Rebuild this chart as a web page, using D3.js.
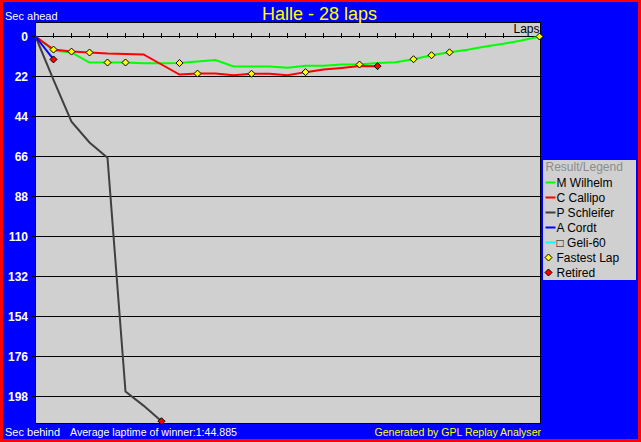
<!DOCTYPE html>
<html><head><meta charset="utf-8">
<script src="https://cdn.jsdelivr.net/npm/d3@7"></script>
<style>body{margin:0;overflow:hidden;background:#ff0000}svg{display:block}</style>
</head><body><svg id="c" width="641" height="442"></svg>
<script>
// ---- data ----
const titleText = "Halle - 28 laps";
const laps = [0,1,2,3,4,5,6,7,8,9,10,11,12,13,14,15,16,17,18,19,20,21,22,23,24,25,26,27,28];
const lapTicks = [1,2,3,4,5,6,7,8,9,10,11,12,13,14,15,16,17,18,19,20,21,22,23,24,25,26];
const yTicks = [0,22,44,66,88,110,132,154,176,198];
const drivers = ["M Wilhelm","C Callipo","P Schleifer","A Cordt","\u25A1 Geli-60"];
// seconds behind leader-pace, per lap (index = lap)
const wilhelm = [0,7.7,8.8,14.3,14.3,14.3,14.7,14.7,14.6,13.8,12.9,16.5,16.5,16.5,17.2,16.1,16.1,15.4,15.4,14.6,14.1,12.5,10.3,8.7,7.3,5.5,4.0,2.2,0];
const callipo = [0,7.2,8.3,8.8,9.4,9.6,9.9,15.4,20.9,20.4,20.4,21.3,20.5,20.5,21.3,19.6,18.2,17.3,16.2,16.3];
const schleifer = [0,23.8,46.8,58.3,66.7,195.3,203,211.6];
const cordt = [0,12.6];
const geli = [];
const retired = ["C Callipo","P Schleifer","A Cordt"];
const fastestLaps = [["C Callipo",1],["C Callipo",2],["C Callipo",3],["M Wilhelm",4],["M Wilhelm",5],["M Wilhelm",8],["C Callipo",9],["C Callipo",12],["C Callipo",15],["M Wilhelm",18],["M Wilhelm",21],["M Wilhelm",22],["M Wilhelm",23],["M Wilhelm",28]];
const legendTitle = "Result/Legend";
const legendExtras = ["Fastest Lap","Retired"];
const yLabelTop = "Sec ahead", yLabelBottom = "Sec behind";
const avgText = "Average laptime of winner:1:44.885";
const genText = "Generated by GPL Replay Analyser";

// ---- styles ----
const palette = {"M Wilhelm":"#00ff00","C Callipo":"#ff0000","P Schleifer":"#404040","A Cordt":"#0000ff","\u25A1 Geli-60":"#00ffff"};
const seriesMap = {"M Wilhelm":wilhelm,"C Callipo":callipo,"P Schleifer":schleifer,"A Cordt":cordt,"\u25A1 Geli-60":geli};
const font = "'Liberation Sans', Arial, sans-serif";

const svg = d3.select("#c");
svg.append("rect").attr("x",3).attr("y",2).attr("width",635).attr("height",437).attr("fill","#0000ff");

const x = d3.scaleLinear().domain([0,28]).range([35.5,539.5]);
const y = d3.scaleLinear().domain([0,198]).range([36.5,396.5]);
const plotL = 35.5, plotR = 540.5, plotT = 22.5, plotB = 423.5;

svg.append("rect").attr("x",plotL).attr("y",plotT).attr("width",plotR-plotL).attr("height",plotB-plotT)
  .attr("fill","#d0d0d0").attr("stroke","#000").attr("stroke-width",1);

// grid + left ticks
const g = svg.append("g");
yTicks.forEach(t=>{
  g.append("line").attr("x1",31).attr("x2",plotR).attr("y1",y(t)).attr("y2",y(t)).attr("stroke","#000").attr("stroke-width",1);
  g.append("text").attr("x",28).attr("y",y(t)).attr("dy","0.36em").attr("text-anchor","end")
   .attr("fill","#fff").attr("font-family",font).attr("font-weight","bold").attr("font-size",12).text(t);
});
lapTicks.forEach(l=>{
  g.append("line").attr("x1",x(l)).attr("x2",x(l)).attr("y1",33).attr("y2",38).attr("stroke","#000").attr("stroke-width",1);
});
svg.append("text").attr("x",539.5).attr("y",32.5).attr("text-anchor","end").attr("font-family",font)
  .attr("font-size",12).attr("fill","#000").text("Laps");

// series lines
const line = d3.line().x((d,i)=>x(laps[i])).y(d=>y(d));
drivers.forEach(dn=>{
  const v = seriesMap[dn];
  if (v.length<2) return;
  svg.append("path").attr("d",line(v)).attr("fill","none").attr("stroke",palette[dn]).attr("stroke-width",2);
});

const diamond = "M0,-3.5L3.5,0L0,3.5L-3.5,0Z";
fastestLaps.forEach(([dn,l])=>{
  svg.append("path").attr("d",diamond).attr("transform",`translate(${x(laps[l])},${y(seriesMap[dn][l])})`)
    .attr("fill","#ffff00").attr("stroke","#000").attr("stroke-width",1);
});
retired.forEach(dn=>{
  const v = seriesMap[dn]; const l = v.length-1;
  svg.append("path").attr("d",diamond).attr("transform",`translate(${x(laps[l])},${y(v[l])})`)
    .attr("fill","#ff0000").attr("stroke","#000").attr("stroke-width",1);
});

// texts
svg.append("text").attr("x",319.5).attr("y",19.5).attr("text-anchor","middle").attr("font-family",font)
  .attr("font-size",18).attr("fill","#ffff00").text(titleText);
svg.append("text").attr("x",5).attr("y",19.5).attr("font-family",font).attr("font-size",11).attr("fill","#fff").text(yLabelTop);
svg.append("text").attr("x",5).attr("y",435.5).attr("font-family",font).attr("font-size",11).attr("fill","#fff").text(yLabelBottom);
svg.append("text").attr("x",70).attr("y",435.5).attr("font-family",font).attr("font-size",11).attr("fill","#fff")
  .attr("textLength",167).attr("lengthAdjust","spacingAndGlyphs").text(avgText);
svg.append("text").attr("x",374.5).attr("y",435.5).attr("font-family",font).attr("font-size",11).attr("fill","#ffff00")
  .attr("textLength",166.5).attr("lengthAdjust","spacingAndGlyphs").text(genText);

// legend
const lg = svg.append("g");
lg.append("rect").attr("x",543).attr("y",160).attr("width",93).attr("height",120).attr("fill","#d0d0d0");
lg.append("text").attr("x",545.5).attr("y",171).attr("font-family",font).attr("font-size",12).attr("fill","#8c8c8c").text(legendTitle);
const items = drivers.concat(legendExtras);
items.forEach((dn,i)=>{
  const cy = 182.5 + i*15;
  if (i < drivers.length) {
    lg.append("line").attr("x1",545.5).attr("x2",555.5).attr("y1",cy).attr("y2",cy).attr("stroke",palette[dn]).attr("stroke-width",2);
  } else {
    lg.append("path").attr("d",diamond).attr("transform",`translate(548.5,${cy})`)
      .attr("fill", dn==="Retired" ? "#ff0000" : "#ffff00").attr("stroke","#000").attr("stroke-width",1);
  }
  lg.append("text").attr("x",556.5).attr("y",cy).attr("dy","0.36em").attr("font-family",font).attr("font-size",12).attr("fill","#000").text(dn);
});
</script></body></html>
